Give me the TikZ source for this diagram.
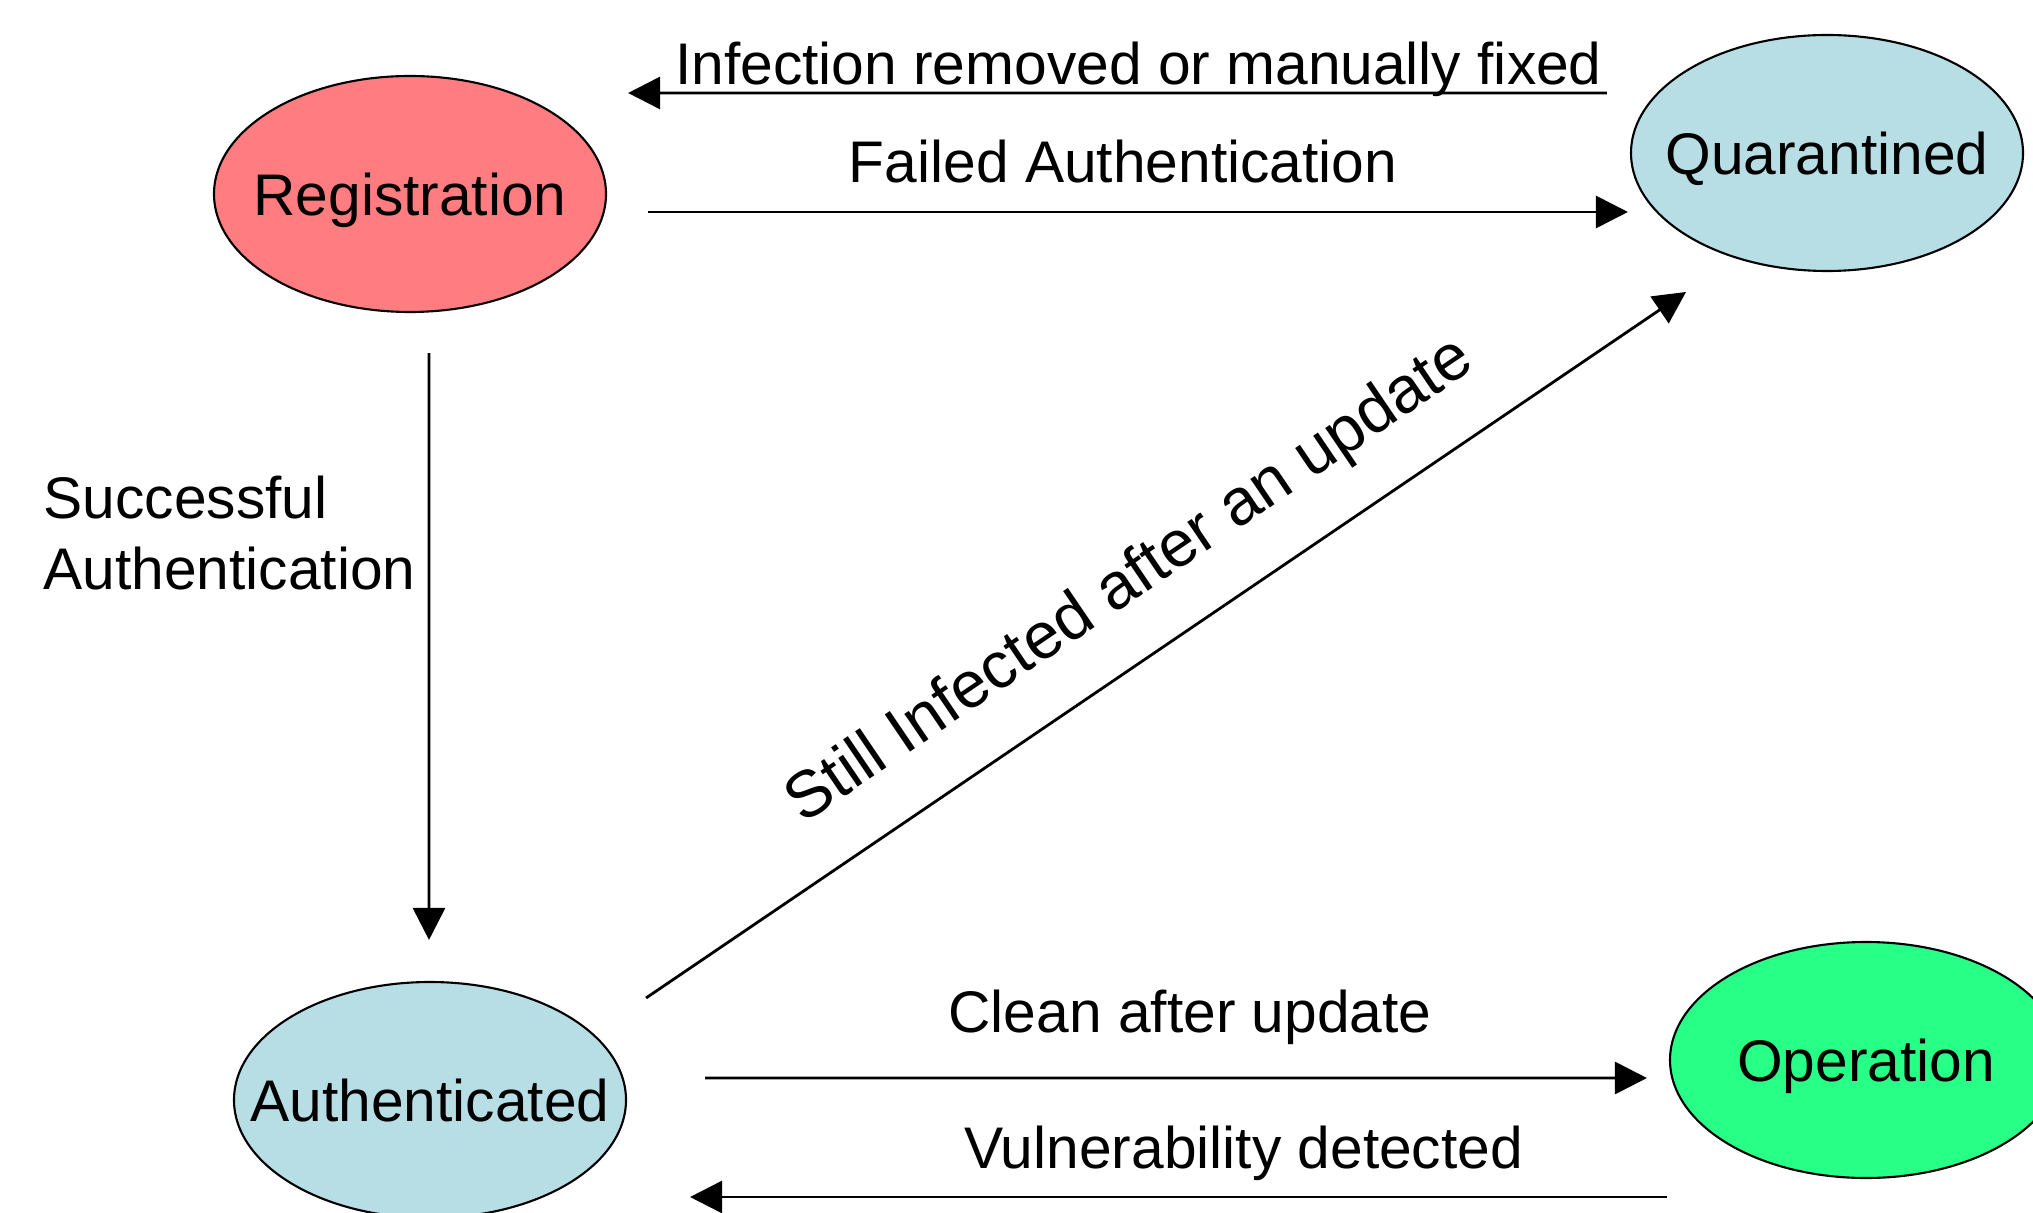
\documentclass[tikz,border=0pt]{standalone}
\usepackage{fontspec}
\setmainfont{Liberation Sans}
\usetikzlibrary{arrows.meta,shapes.geometric}
\definecolor{regred}{RGB}{255,124,128}
\definecolor{stateblue}{RGB}{183,222,228}
\definecolor{opgreen}{RGB}{40,255,135}
\newcommand{\statename}[1]{\makebox[0pt]{#1}}

\begin{document}
\begin{tikzpicture}[
every node/.style={font=\fontsize{16.7}{20.1}\selectfont},
state/.style={ellipse,draw,line width=0.6pt,minimum width=3.92cm,minimum height=2.36cm,inner sep=0pt,text depth=0pt},
trans/.style={draw,line width=0.8pt,-{Triangle[length=3.2mm,width=3.2mm]}},
lbl/.style={midway,anchor=base,inner sep=0pt}]
\useasboundingbox (0,0) rectangle (20.33,-12.13);

    % states
    \node[state,fill=regred]    (Reg)  at (4.10,-1.94)  {\statename{Registration}};
    \node[state,fill=stateblue] (Quar) at (18.27,-1.53) {\statename{Quarantined}};
    \node[state,fill=stateblue] (Auth) at (4.30,-11.00) {\statename{Authenticated}};
    \node[state,fill=opgreen]   (Oper) at (18.66,-10.60) {\statename{Operation}};

    % transitions
    \draw[trans] ([shift={(-0.23,0.60)}]Quar.west) -- ([shift={(0.21,1.01)}]Reg.east)
        node[lbl,xshift=2.1mm,yshift=0.8mm] {Infection removed or manually fixed};
    \draw[trans] ([shift={(0.41,-0.18)}]Reg.east) -- ([shift={(-0.02,-0.59)}]Quar.west)
        node[lbl,xshift=-1.5mm,yshift=2.9mm] {Failed Authentication};
    \draw[trans] ([shift={(0.19,-0.40)}]Reg.south) -- ([shift={(-0.01,0.41)}]Auth.north)
        node[pos=0.307,anchor=east,align=left,inner sep=0pt,xshift=-1.2mm] {Successful\\Authentication};
    \draw[trans] ([shift={(2.16,1.02)}]Auth.center) -- ([shift={(-1.41,-1.39)}]Quar.center)
        node[pos=0.505,sloped,above=4.0mm,inner sep=0pt,font=\fontsize{18.6}{22}\selectfont] {Still Infected after an update};
    \draw[trans] ([shift={(0.78,0.22)}]Auth.east) -- ([shift={(-0.22,-0.18)}]Oper.west)
        node[lbl,xshift=1.4mm,yshift=4.6mm] {Clean after update};
    \draw[trans] ([shift={(-0.02,-1.37)}]Oper.west) -- ([shift={(0.63,-0.97)}]Auth.east)
        node[lbl,xshift=6.5mm,yshift=2.9mm] {Vulnerability detected};

\end{tikzpicture}
\end{document}
